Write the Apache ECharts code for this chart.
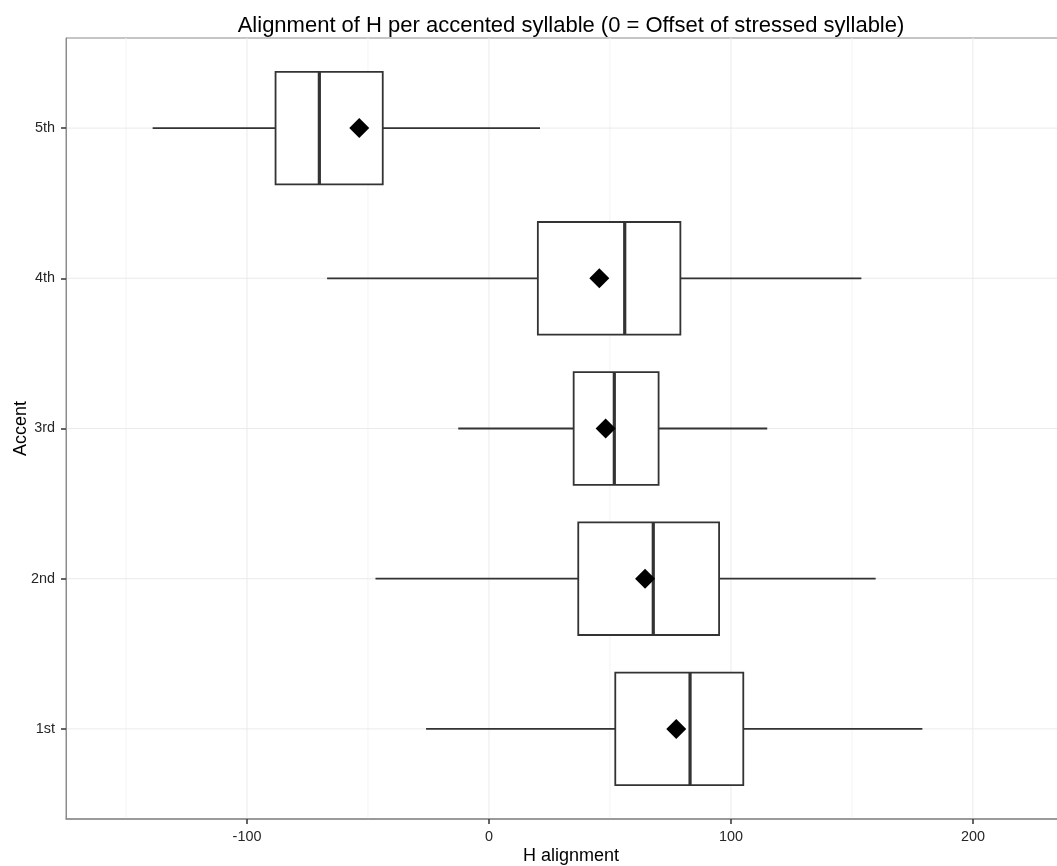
<!DOCTYPE html>
<html>
<head>
<meta charset="utf-8">
<script src="https://cdn.jsdelivr.net/npm/echarts@6/dist/echarts.min.js"></script>
<style>
html,body{margin:0;padding:0;overflow:hidden;background:#fff;}
#chart{width:1142px;height:866px;}
</style>
</head>
<body>
<div id="chart"></div>
<script>
const categories = ['1st', '2nd', '3rd', '4th', '5th'];
const lowWhisker = [-26.0, -46.9, -12.7, -66.9, -139.0];
const q1 = [52.2, 36.9, 35.0, 20.2, -88.2];
const median = [83.1, 67.9, 51.8, 56.1, -70.1];
const q3 = [105.1, 95.1, 70.1, 79.1, -43.9];
const highWhisker = [179.1, 159.8, 115.0, 153.9, 21.1];
const means = [77.4, 64.5, 48.2, 45.6, -53.6];
const xTicks = [-100, 0, 100, 200];
const xMinorTicks = [-150, -50, 50, 150];
const yTicks = [0, 1, 2, 3, 4];

const boxData = categories.map((c, i) => [i, lowWhisker[i], q1[i], median[i], q3[i], highWhisker[i]]);
const meanData = categories.map((c, i) => [means[i], i]);

const chart = echarts.init(document.getElementById('chart'), null, {renderer: 'canvas'});
const FONT = '"Liberation Sans", Arial, Helvetica, sans-serif';

function vLines(values, color) {
  return {
    type: 'custom',
    silent: true,
    z: 0,
    data: values.map(v => [v, 0]),
    encode: {x: 0, y: 1},
    renderItem: function (params, api) {
      const cs = params.coordSys;
      const p = api.coord([api.value(0), 0]);
      return {
        type: 'line',
        shape: {x1: p[0], y1: cs.y, x2: p[0], y2: cs.y + cs.height},
        style: {stroke: color, lineWidth: 1}
      };
    }
  };
}
function hLines(values, color) {
  return {
    type: 'custom',
    silent: true,
    z: 0,
    data: values.map(v => [0, v]),
    encode: {x: 0, y: 1},
    renderItem: function (params, api) {
      const cs = params.coordSys;
      const p = api.coord([0, api.value(1)]);
      return {
        type: 'line',
        shape: {x1: cs.x, y1: p[1], x2: cs.x + cs.width, y2: p[1]},
        style: {stroke: color, lineWidth: 1}
      };
    }
  };
}

const option = {
  backgroundColor: '#fff',
  animation: false,
  title: {
    text: 'Alignment of H per accented syllable (0 = Offset of stressed syllable)',
    left: 'center',
    top: 10,
    textStyle: {fontFamily: FONT, fontSize: 22, fontWeight: 'normal', color: '#000'}
  },
  grid: {
    left: 66, right: 66, top: 38, bottom: 47,
    outerBoundsMode: 'none',
    containLabel: false,
    show: true, borderColor: '#8c8c8c', borderWidth: 1, backgroundColor: 'transparent'
  },
  xAxis: {
    type: 'value',
    min: -174.8,
    max: 242.6,
    name: 'H alignment',
    nameLocation: 'middle',
    nameGap: 28,
    nameMoveOverlap: false,
    nameTextStyle: {fontFamily: FONT, fontSize: 18, color: '#000'},
    axisLine: {show: true, onZero: false, lineStyle: {color: '#8c8c8c', width: 1.5}},
    axisTick: {show: true, customValues: xTicks, length: 5, lineStyle: {color: '#333', width: 1.5}},
    axisLabel: {customValues: xTicks, margin: 11, fontFamily: FONT, fontSize: 14.4, color: '#262626'},
    splitLine: {show: false}
  },
  yAxis: {
    type: 'value',
    min: -0.6,
    max: 4.6,
    name: 'Accent',
    nameLocation: 'middle',
    nameRotate: 90,
    nameGap: 36,
    nameMoveOverlap: false,
    nameTextStyle: {fontFamily: FONT, fontSize: 18, color: '#000'},
    axisLine: {show: true, onZero: false, lineStyle: {color: '#8c8c8c', width: 1}},
    axisTick: {show: true, customValues: yTicks, length: 5, lineStyle: {color: '#333', width: 1.5}},
    axisLabel: {customValues: yTicks, margin: 11, fontFamily: FONT, fontSize: 14.4, color: '#262626',
      formatter: v => categories[Math.round(v)]},
    splitLine: {show: false}
  },
  series: [
    vLines(xMinorTicks, '#f4f4f4'),
    vLines(xTicks, '#ebebeb'),
    hLines(yTicks, '#ebebeb'),
    {
      type: 'custom',
      z: 2,
      data: boxData,
      encode: {y: 0, x: [1, 2, 3, 4, 5]},
      renderItem: function (params, api) {
        const y = api.value(0);
        const pLow = api.coord([api.value(1), y]);
        const pQ1 = api.coord([api.value(2), y]);
        const pMed = api.coord([api.value(3), y]);
        const pQ3 = api.coord([api.value(4), y]);
        const pHigh = api.coord([api.value(5), y]);
        const h = api.size([0, 0.75])[1];
        const top = pQ1[1] - h / 2;
        const col = '#333';
        return {
          type: 'group',
          children: [
            {type: 'line', shape: {x1: pLow[0], y1: pLow[1], x2: pQ1[0], y2: pQ1[1]}, style: {stroke: col, lineWidth: 1.8}},
            {type: 'line', shape: {x1: pQ3[0], y1: pQ3[1], x2: pHigh[0], y2: pHigh[1]}, style: {stroke: col, lineWidth: 1.8}},
            {type: 'rect', shape: {x: pQ1[0], y: top, width: pQ3[0] - pQ1[0], height: h}, style: {fill: '#fff', stroke: col, lineWidth: 1.8}},
            {type: 'line', shape: {x1: pMed[0], y1: top, x2: pMed[0], y2: top + h}, style: {stroke: col, lineWidth: 3.2}}
          ]
        };
      }
    },
    {
      type: 'scatter',
      z: 3,
      data: meanData,
      symbol: 'diamond',
      symbolSize: [20, 20],
      itemStyle: {color: '#000', opacity: 1}
    }
  ]
};
chart.setOption(option);
</script>
</body>
</html>
